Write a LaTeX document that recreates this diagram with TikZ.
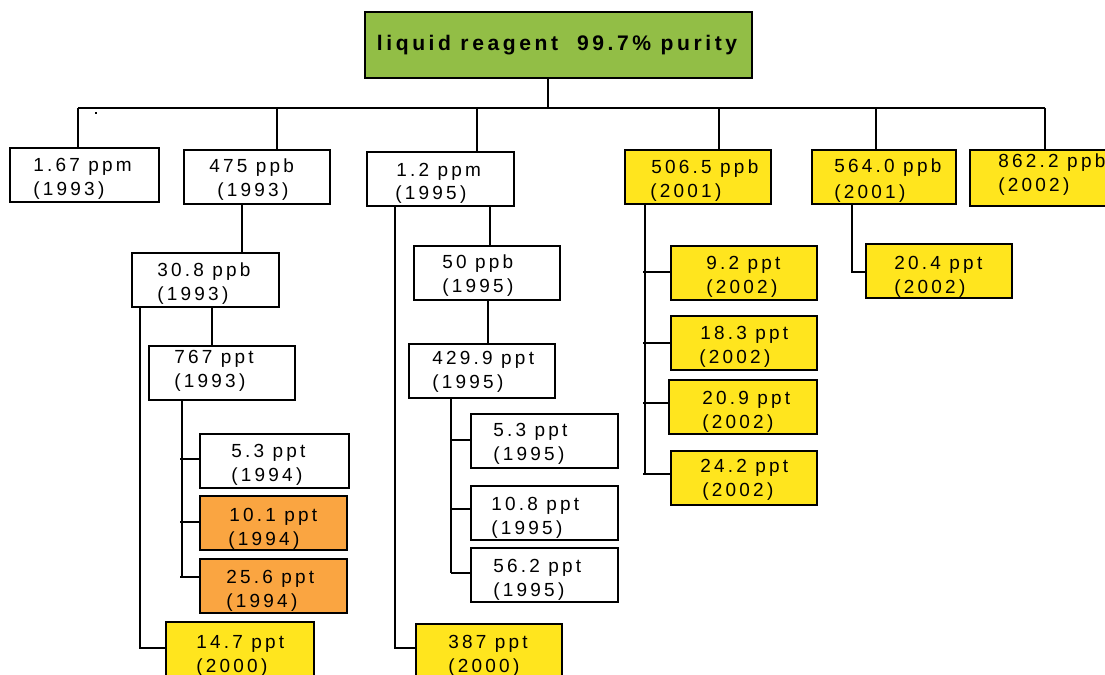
\documentclass[tikz,border=0pt]{standalone}
\usepackage{fontspec}
\newfontfamily\labfont[LetterSpace=17]{Liberation Sans}
\newfontfamily\rootfont[LetterSpace=17]{Liberation Sans}
\usetikzlibrary{calc}
\definecolor{rootgreen}{RGB}{146,190,70}
\definecolor{boxyellow}{RGB}{255,229,30}
\definecolor{boxorange}{RGB}{250,165,65}
\tikzset{
  box/.style={draw=black,line width=1.15pt,inner sep=0pt,outer sep=0pt},
  lab/.style={anchor=west,inner sep=0pt,yshift=-1.1pt,font=\labfont\fontsize{10.8}{12}\selectfont},
  rootlab/.style={inner sep=0pt,font=\rootfont\bfseries\fontsize{12}{14}\selectfont},
  conn/.style={draw=black,line width=1.15pt}
}
\newcommand\mybox[6]{%
  \node[box,#6,minimum width={(#4-#2)*0.02cm},minimum height={(#5-#3)*0.02cm}] (#1) at ({(#2+#4)/2},{(#3+#5)/2}) {};}
\newcommand\lbl[4]{\node[lab] (#1) at (#2,#3) {#4};}
\begin{document}
\begin{tikzpicture}[x=0.02cm,y=-0.02cm]
\useasboundingbox (0,0) rectangle (1105,675);
\clip (0,0) rectangle (1105,675);
\fill[white] (0,0) rectangle (1105,675);
% boxes
\mybox{root}{365}{12}{752}{78}{fill=rootgreen}
\mybox{A}{10}{148}{159}{202}{fill=white}
\mybox{B}{184}{150}{330}{204}{fill=white}
\mybox{C}{367}{152}{514}{206}{fill=white}
\mybox{D}{625}{150}{771}{204}{fill=boxyellow}
\mybox{E}{812}{150}{956}{204}{fill=boxyellow}
\mybox{F}{970}{150}{1116}{206}{fill=boxyellow}
\mybox{B1}{132}{253}{279}{307}{fill=white}
\mybox{B2}{149}{346}{295}{400}{fill=white}
\mybox{B3}{200}{434}{349}{488}{fill=white}
\mybox{B4}{200}{496}{347}{550}{fill=boxorange}
\mybox{B5}{200}{559}{347}{613}{fill=boxorange}
\mybox{B6}{166}{622}{314}{676}{fill=boxyellow}
\mybox{C1}{414}{246}{560}{300}{fill=white}
\mybox{C2}{409}{344}{555}{398}{fill=white}
\mybox{C3}{471}{414}{618}{468}{fill=white}
\mybox{C4}{471}{486}{618}{540}{fill=white}
\mybox{C5}{471}{548}{618}{602}{fill=white}
\mybox{C6}{416}{624}{562}{678}{fill=boxyellow}
\mybox{D1}{671}{246}{817}{300}{fill=boxyellow}
\mybox{D2}{671}{316}{817}{370}{fill=boxyellow}
\mybox{D3}{669}{380}{817}{434}{fill=boxyellow}
\mybox{D4}{671}{451}{817}{505}{fill=boxyellow}
\mybox{E1}{866}{244}{1012}{298}{fill=boxyellow}
% texts
\node[rootlab] (rootT) at (557,45) {liquid reagent\ \ 99.7\% purity};
\lbl{A1}{33}{165}{1.67 ppm}\lbl{A2}{33}{189}{(1993)}
\lbl{Bt1}{209}{166}{475 ppb}\lbl{Bt2}{217}{190}{(1993)}
\lbl{Ct1}{396}{170}{1.2 ppm}\lbl{Ct2}{395}{193}{(1995)}
\lbl{Dt1}{651}{167}{506.5 ppb}\lbl{Dt2}{650}{191}{(2001)}
\lbl{Et1}{834}{166}{564.0 ppb}\lbl{Et2}{834}{192}{(2001)}
\lbl{Ft1}{998}{161}{862.2 ppb}\lbl{Ft2}{998}{185}{(2002)}
\lbl{B1t1}{157}{270}{30.8 ppb}\lbl{B1t2}{157}{294}{(1993)}
\lbl{B2t1}{174}{357}{767 ppt}\lbl{B2t2}{174}{381}{(1993)}
\lbl{B3t1}{231}{451}{5.3 ppt}\lbl{B3t2}{231}{475}{(1994)}
\lbl{B4t1}{229}{515}{10.1 ppt}\lbl{B4t2}{228}{539}{(1994)}
\lbl{B5t1}{226}{577}{25.6 ppt}\lbl{B5t2}{226}{601}{(1994)}
\lbl{B6t1}{196}{642}{14.7 ppt}\lbl{B6t2}{196}{666}{(2000)}
\lbl{C1t1}{442}{262}{50 ppb}\lbl{C1t2}{442}{286}{(1995)}
\lbl{C2t1}{432}{358}{429.9 ppt}\lbl{C2t2}{432}{382}{(1995)}
\lbl{C3t1}{493}{430}{5.3 ppt}\lbl{C3t2}{493}{454}{(1995)}
\lbl{C4t1}{491}{504}{10.8 ppt}\lbl{C4t2}{491}{528}{(1995)}
\lbl{C5t1}{493}{566}{56.2 ppt}\lbl{C5t2}{493}{590}{(1995)}
\lbl{C6t1}{448}{642}{387 ppt}\lbl{C6t2}{448}{666}{(2000)}
\lbl{D1t1}{706}{263}{9.2 ppt}\lbl{D1t2}{706}{287}{(2002)}
\lbl{D2t1}{700}{333}{18.3 ppt}\lbl{D2t2}{699}{357}{(2002)}
\lbl{D3t1}{702}{398}{20.9 ppt}\lbl{D3t2}{702}{422}{(2002)}
\lbl{D4t1}{700}{466}{24.2 ppt}\lbl{D4t2}{702}{490}{(2002)}
\lbl{E1t1}{894}{263}{20.4 ppt}\lbl{E1t2}{894}{287}{(2002)}
% bus
\coordinate (busL) at (78,108);
\coordinate (busR) at (1045,108);
\draw[conn] (busL) -- (busR);
\coordinate (jR) at (548,108);
\draw[conn] (root.south -| jR) -- (jR);
\coordinate (jA) at (78,108);
\coordinate (jB) at (277,108);
\coordinate (jC) at (477,108);
\coordinate (jD) at (719,108);
\coordinate (jE) at (876,108);
\coordinate (jF) at (1045,108);
\draw[conn] (jA) -- (jA |- A.north);
\draw[conn] (jB) -- (jB |- B.north);
\draw[conn] (jC) -- (jC |- C.north);
\draw[conn] (jD) -- (jD |- D.north);
\draw[conn] (jE) -- (jE |- E.north);
\draw[conn] (jF) -- (jF |- F.north);
% B branch
\coordinate (vB1) at (242,0);
\draw[conn] (B.south -| vB1) -- (B1.north -| vB1);
\coordinate (vB2) at (212,0);
\draw[conn] (B1.south -| vB2) -- (B2.north -| vB2);
\coordinate (kB3) at (182,459);
\coordinate (kB4) at (182,522);
\coordinate (kB5) at (182,577);
\draw[conn] (B2.south -| kB3) -- (kB5);
\draw[conn] ([xshift=-0.04cm]kB3) -- (kB3 -| B3.west);
\draw[conn] ([xshift=-0.04cm]kB4) -- (kB4 -| B4.west);
\draw[conn] ([xshift=-0.04cm]kB5) -- (kB5 -| B5.west);
\coordinate (kB6) at (140,648);
\draw[conn] (B1.south -| kB6) -- (kB6) -- (kB6 -| B6.west);
% C branch
\coordinate (vC1) at (490,0);
\draw[conn] (C.south -| vC1) -- (C1.north -| vC1);
\coordinate (vC2) at (488,0);
\draw[conn] (C1.south -| vC2) -- (C2.north -| vC2);
\coordinate (kC3) at (451,440);
\coordinate (kC4) at (451,509);
\coordinate (kC5) at (451,573);
\draw[conn] (C2.south -| kC3) -- (kC5);
\draw[conn] (kC3) -- (kC3 -| C3.west);
\draw[conn] (kC4) -- (kC4 -| C4.west);
\draw[conn] (kC5) -- (kC5 -| C5.west);
\coordinate (kC6) at (395,648);
\draw[conn] (C.south -| kC6) -- (kC6) -- (kC6 -| C6.west);
% D branch
\coordinate (kD1) at (645,272);
\coordinate (kD2) at (645,343);
\coordinate (kD3) at (645,403);
\coordinate (kD4) at (645,474);
\draw[conn] (D.south -| kD1) -- (kD4);
\draw[conn] ([xshift=-0.04cm]kD1) -- (kD1 -| D1.west);
\draw[conn] ([xshift=-0.04cm]kD2) -- (kD2 -| D2.west);
\draw[conn] ([xshift=-0.04cm]kD3) -- (kD3 -| D3.west);
\draw[conn] ([xshift=-0.04cm]kD4) -- (kD4 -| D4.west);
% E branch
\coordinate (kE1) at (852,272);
\draw[conn] (E.south -| kE1) -- (kE1) -- (kE1 -| E1.west);
% stray dot
\fill (95,112) rectangle (97,114);
\end{tikzpicture}
\end{document}
